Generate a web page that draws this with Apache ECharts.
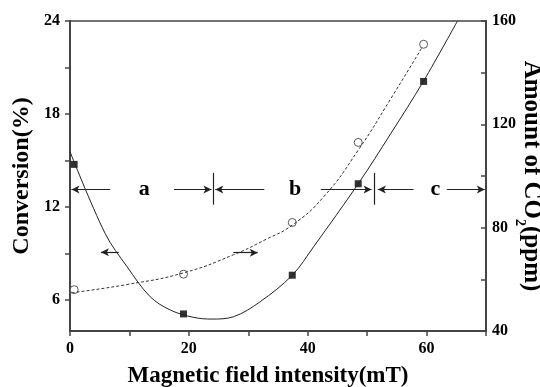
<!DOCTYPE html>
<html>
<head>
<meta charset="utf-8">
<script src="https://cdn.jsdelivr.net/npm/echarts@6/dist/echarts.min.js"></script>
<style>
  html, body { margin: 0; padding: 0; background: #fff; }
  #chart { width: 540px; height: 387px; }
</style>
</head>
<body>
<div id="chart"></div>
<script>
// measured points
const fieldX = [0.7, 19.1, 37.4, 48.5, 59.5]
const conversion = [14.75, 5.1, 7.6, 13.5, 20.1]
const co2 = [56, 62, 82, 113, 151]

// fitted curves
const convFitX = [0, 5.9, 9.6, 13.5, 16.9, 20.8, 23.9, 27.5, 32, 37.4, 41, 48.5, 54, 59.5, 65.2]
const convFitY = [15.57, 10.3, 8.15, 6.21, 5.35, 4.88, 4.77, 4.92, 5.89, 7.6, 9.44, 13.5, 16.75, 20.13, 24]
const co2FitX = [0.3, 9.6, 19.1, 27.5, 33, 37.4, 42.7, 48.5, 54, 59.3]
const co2FitY = [54.8, 58, 62.5, 69.5, 75.5, 81, 92, 110, 130, 150]

// region markers (x in mT, y in conversion %)
const arrowY = 13.13
const arrows = [[6.75, 0.25], [17.5, 23.8], [32.7, 24.45], [42.2, 50.75], [57.8, 51.8], [63.4, 69.8]]
const dividers = [24.1, 51.2]
const dividerSpan = [12.15, 14.2]
const regionLabels = ['a', 'b', 'c']
const regionLabelX = [12.5, 37.9, 61.5]
// small arrows pointing to each axis
const axisArrows = [[8.2, 9.08, 5.2, 9.08], [27.5, 9.05, 31.6, 9.05]]

const xTicks = ['0', '20', '40', '60']
const leftLabels = [6, 12, 18, 24]
const leftTicks = [6, 9, 12, 15, 18, 21, 24]

const font = 'Liberation Serif'
const ink = '#000'
const axisColor = '#444'

const pairs = (xs, ys) => xs.map((x, i) => [x, ys[i]])

const markData = []
arrows.forEach(a => {
  markData.push([{ coord: [a[0], arrowY], symbol: 'none' }, { coord: [a[1], arrowY], symbol: 'arrow' }])
})
dividers.forEach(d => {
  markData.push([{ coord: [d, dividerSpan[0]], symbol: 'none' }, { coord: [d, dividerSpan[1]], symbol: 'none' }])
})
axisArrows.forEach(a => {
  markData.push([{ coord: [a[0], a[1]], symbol: 'none' }, { coord: [a[2], a[3]], symbol: 'arrow' }])
})

const chart = echarts.init(document.getElementById('chart'), null, { renderer: 'canvas' })

const option = {
  animation: false,
  textStyle: { fontFamily: font },
  grid: {
    left: 70, right: 54, top: 21, bottom: 56,
    outerBoundsMode: 'none',
    show: true, borderColor: axisColor, borderWidth: 1.5, backgroundColor: 'transparent'
  },
  xAxis: {
    type: 'value',
    min: 0, max: 70, interval: 10,
    name: 'Magnetic field intensity(mT)',
    nameLocation: 'middle',
    nameGap: 34,
    nameTextStyle: { fontFamily: font, fontWeight: 'bold', fontSize: 23, color: ink, padding: [0, 20, 0, 0] },
    axisLine: { show: true, lineStyle: { color: axisColor, width: 2 } },
    axisTick: { show: true, length: 5, lineStyle: { color: axisColor, width: 1.5 } },
    axisLabel: {
      margin: 10, fontFamily: font, fontWeight: 'bold', fontSize: 16, color: ink,
      formatter: v => xTicks.includes(String(v)) ? String(v) : ''
    },
    splitLine: { show: false }
  },
  yAxis: [
    {
      type: 'value',
      min: 4, max: 24,
      position: 'left',
      name: 'Conversion(%)',
      nameLocation: 'middle',
      nameRotate: 90,
      nameGap: 36,
      nameMoveOverlap: false,
      nameTextStyle: { fontFamily: font, fontWeight: 'bold', fontSize: 24, color: ink },
      axisLine: { show: true, lineStyle: { color: axisColor, width: 2 } },
      axisTick: { show: true, length: 5, customValues: leftTicks, lineStyle: { color: axisColor, width: 1.5 } },
      axisLabel: { margin: 10, customValues: leftLabels, fontFamily: font, fontWeight: 'bold', fontSize: 16, color: ink },
      splitLine: { show: false }
    },
    {
      type: 'value',
      min: 40, max: 160, interval: 20,
      position: 'right',
      name: 'Amount of CO{sub|2}(ppm)',
      nameLocation: 'middle',
      nameRotate: -90,
      nameGap: 27,
      nameMoveOverlap: false,
      nameTextStyle: {
        fontFamily: font, fontWeight: 'bold', fontSize: 25, color: ink,
        rich: {
          sub: { fontFamily: font, fontWeight: 'bold', fontSize: 14, color: ink, lineHeight: 36, verticalAlign: 'bottom' }
        }
      },
      axisLine: { show: true, lineStyle: { color: axisColor, width: 2 } },
      axisTick: { show: true, inside: true, length: 5, lineStyle: { color: axisColor, width: 1.5 } },
      axisLabel: {
        margin: 6, fontFamily: font, fontWeight: 'bold', fontSize: 16, color: ink,
        formatter: v => (v % 40 === 0 ? String(v) : '')
      },
      splitLine: { show: false }
    }
  ],
  series: [
    {
      name: 'conversion fit',
      type: 'line',
      smooth: 0.35,
      showSymbol: false,
      data: pairs(convFitX, convFitY),
      lineStyle: { color: '#222', width: 1 },
      clip: true,
      markLine: {
        silent: true,
        animation: false,
        symbolSize: [6, 8],
        label: { show: false },
        lineStyle: { color: '#222', width: 1.2, type: 'solid' },
        emphasis: { disabled: true },
        data: markData
      }
    },
    {
      name: 'co2 fit',
      type: 'line',
      yAxisIndex: 1,
      smooth: 0.5,
      showSymbol: false,
      data: pairs(co2FitX, co2FitY),
      lineStyle: { color: '#333', width: 1, type: [3, 2] }
    },
    {
      name: 'conversion',
      type: 'scatter',
      symbol: 'rect',
      symbolSize: 7,
      data: pairs(fieldX, conversion),
      itemStyle: { color: '#000' }
    },
    {
      name: 'co2',
      type: 'scatter',
      yAxisIndex: 1,
      symbol: 'circle',
      symbolSize: 8,
      data: pairs(fieldX, co2),
      itemStyle: { color: '#fff', borderColor: '#333', borderWidth: 1 }
    },
    {
      name: 'regions',
      type: 'scatter',
      symbolSize: 1,
      data: regionLabels.map((t, i) => [regionLabelX[i], arrowY, t]),
      itemStyle: { color: '#fff', opacity: 0 },
      label: {
        show: true, position: 'inside', opacity: 1,
        formatter: p => p.value[2],
        fontFamily: font, fontWeight: 'bold', fontSize: 22, color: ink
      }
    }
  ]
}

chart.setOption(option)
</script>
</body>
</html>
